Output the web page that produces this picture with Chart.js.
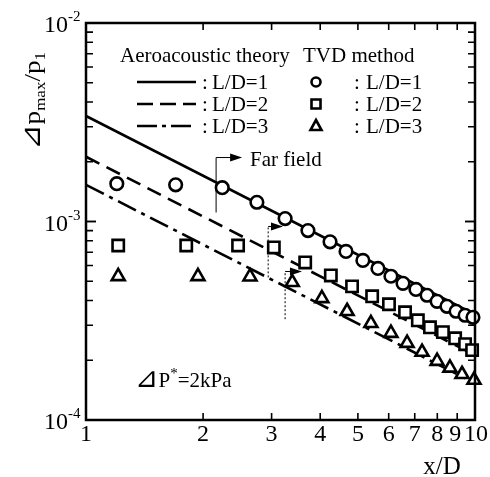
<!DOCTYPE html>
<html>
<head>
<meta charset="utf-8">
<script src="https://cdn.jsdelivr.net/npm/chart.js@4/dist/chart.umd.min.js"></script>
<style>
  html, body { margin: 0; padding: 0; background: #fff; }
</style>
</head>
<body>
<canvas id="chart" width="490" height="477"></canvas>
<script>
// Data
const theoryX = [1, 10];
const theory1 = [3.4e-3, 3.4e-4];   // L/D=1, solid
const theory2 = [2.12e-3, 2.12e-4]; // L/D=2, dashed
const theory3 = [1.53e-3, 1.53e-4]; // L/D=3, dash-dot

const tvd1X = [1.20, 1.70, 2.24, 2.75, 3.25, 3.72, 4.24, 4.66, 5.15, 5.63, 6.08, 6.53, 7.05, 7.53, 7.99, 8.47, 8.94, 9.43, 9.88];
const tvd1Y = [1.55e-3, 1.53e-3, 1.48e-3, 1.25e-3, 1.035e-3, 9.0e-4, 7.9e-4, 7.07e-4, 6.37e-4, 5.8e-4, 5.3e-4, 4.88e-4, 4.55e-4, 4.25e-4, 3.96e-4, 3.74e-4, 3.53e-4, 3.37e-4, 3.29e-4];

const tvd2X = [1.21, 1.81, 2.46, 3.04, 3.66, 4.26, 4.83, 5.44, 6.01, 6.61, 7.13, 7.66, 8.27, 8.89, 9.43, 9.83];
const tvd2Y = [7.57e-4, 7.57e-4, 7.57e-4, 7.40e-4, 6.22e-4, 5.35e-4, 4.71e-4, 4.20e-4, 3.83e-4, 3.49e-4, 3.18e-4, 2.93e-4, 2.77e-4, 2.58e-4, 2.41e-4, 2.25e-4];

const tvd3X = [1.21, 1.94, 2.64, 3.39, 4.04, 4.69, 5.40, 6.08, 6.69, 7.31, 7.99, 8.62, 9.26, 9.94];
const tvd3Y = [5.29e-4, 5.29e-4, 5.27e-4, 4.94e-4, 4.10e-4, 3.53e-4, 3.07e-4, 2.74e-4, 2.44e-4, 2.20e-4, 1.98e-4, 1.83e-4, 1.70e-4, 1.59e-4];

const xTickValues = [1, 2, 3, 4, 5, 6, 7, 8, 9, 10];
const xTickLabels = ['1', '2', '3', '4', '5', '6', '7', '8', '9', '10'];
const yTickValues = [1e-2, 1e-3, 1e-4];
const yTickExps = ['-2', '-3', '-4'];

const legendLabels = ['L/D=1', 'L/D=2', 'L/D=3'];

// Far field markers
const farField = [
  { x: 2.16, y0: 1.11e-3, y1: 2.10e-3, x1: 2.52, dotted: false },
  { x: 2.94, y0: 5.23e-4, y1: 9.44e-4, x1: 3.21, dotted: true },
  { x: 3.25, y0: 3.22e-4, y1: 5.6e-4, x1: 3.59, dotted: true }
];

const pts = (xs, ys) => xs.map((x, i) => ({ x: x, y: ys[i] }));

const SERIF = '"Liberation Serif", "DejaVu Serif", serif';
const DASH = [15, 8];
const DASHDOT = [20, 6, 4, 6];

const markerStyle = {
  showLine: false,
  borderColor: '#000',
  backgroundColor: '#fff',
  borderWidth: 2.6,
  clip: false,
  order: 0
};
const lineStyle = {
  showLine: true,
  pointRadius: 0,
  borderColor: '#000',
  borderWidth: 2.6,
  order: 1
};

function drawMarker(ctx, type, x, y) {
  ctx.save();
  ctx.lineWidth = 2.6;
  ctx.strokeStyle = '#000';
  ctx.fillStyle = '#fff';
  ctx.beginPath();
  if (type === 'circle') {
    ctx.arc(x, y, 4.5, 0, Math.PI * 2);
  } else if (type === 'rect') {
    ctx.rect(x - 4.5, y - 4.5, 9, 9);
  } else {
    ctx.moveTo(x, y - 6);
    ctx.lineTo(x + 5.5, y + 4);
    ctx.lineTo(x - 5.5, y + 4);
    ctx.closePath();
  }
  ctx.fill();
  ctx.stroke();
  ctx.restore();
}

const decorPlugin = {
  id: 'decor',
  afterDraw(chart) {
    const ctx = chart.ctx;
    const a = chart.chartArea;
    const xs = chart.scales.x, ys = chart.scales.y;
    ctx.save();
    ctx.strokeStyle = '#000';
    ctx.fillStyle = '#000';

    // frame
    ctx.lineWidth = 2.5;
    ctx.strokeRect(a.left, a.top, a.right - a.left, a.bottom - a.top);

    // x ticks (bottom + top, inward)
    ctx.lineWidth = 1.6;
    xTickValues.forEach(v => {
      if (v === 1 || v === 10) return;
      const px = xs.getPixelForValue(v);
      ctx.beginPath();
      ctx.moveTo(px, a.bottom); ctx.lineTo(px, a.bottom - 7);
      ctx.moveTo(px, a.top); ctx.lineTo(px, a.top + 7);
      ctx.stroke();
    });
    // y ticks (left + right, inward)
    [1e-4, 1e-3].forEach(dec => {
      for (let m = 1; m <= 10; m++) {
        const py = ys.getPixelForValue(dec * m);
        const len = (m === 1 || m === 10) ? 10 : 7;
        ctx.beginPath();
        ctx.moveTo(a.left, py); ctx.lineTo(a.left + len, py);
        ctx.moveTo(a.right, py); ctx.lineTo(a.right - len, py);
        ctx.stroke();
      }
    });

    // x tick labels
    ctx.font = '24px ' + SERIF;
    ctx.textAlign = 'center';
    ctx.textBaseline = 'alphabetic';
    xTickValues.forEach((v, i) => {
      let px = xs.getPixelForValue(v);
      if (v === 9) px -= 2;
      if (v === 10) px += 1;
      ctx.fillText(xTickLabels[i], px, 441);
    });

    // y tick labels 10^n
    yTickValues.forEach((v, i) => {
      const py = ys.getPixelForValue(v);
      ctx.font = '24px ' + SERIF;
      ctx.textAlign = 'right';
      ctx.fillText('10', 68, py + 9);
      ctx.font = '15px ' + SERIF;
      ctx.textAlign = 'left';
      ctx.fillText(yTickExps[i], 68, py - 2);
    });

    // x axis title
    ctx.font = '25px ' + SERIF;
    ctx.textAlign = 'center';
    ctx.fillText('x/D', 442, 474);

    // y axis title (rotated), fitted to ~98px like the figure
    const parts = [
      ['\u22BF', '27px "DejaVu Sans"', 0],
      ['p', '24px ' + SERIF, 0],
      ['max', '15px ' + SERIF, 5],
      ['/p', '24px ' + SERIF, 0],
      ['1', '15px ' + SERIF, 5]
    ];
    let total = 0;
    parts.forEach(p => { ctx.font = p[1]; total += ctx.measureText(p[0]).width; });
    ctx.save();
    ctx.translate(40, 150);
    ctx.rotate(-Math.PI / 2);
    ctx.scale(98 / total, 1);
    ctx.textAlign = 'left';
    let cx = 0;
    parts.forEach(p => {
      ctx.font = p[1];
      ctx.fillText(p[0], cx, p[2]);
      cx += ctx.measureText(p[0]).width;
    });
    ctx.restore();

    // legend
    ctx.font = '21px ' + SERIF;
    ctx.textAlign = 'left';
    ctx.textBaseline = 'middle';
    ctx.fillText('Aeroacoustic theory', 120, 56);
    ctx.fillText('TVD method', 303, 56);
    const rows = [82, 104, 126];
    const dashes = [[], [16, 7], [20, 5, 4, 5]];
    const mk = ['circle', 'rect', 'triangle'];
    rows.forEach((ry, i) => {
      ctx.save();
      ctx.lineWidth = 2.6;
      ctx.setLineDash(dashes[i]);
      ctx.beginPath();
      ctx.moveTo(137, ry); ctx.lineTo(196, ry);
      ctx.stroke();
      ctx.restore();
      ctx.fillText(':', 202, ry + 1);
      ctx.fillText(legendLabels[i], 212, ry + 1);
      drawMarker(ctx, mk[i], 316, ry);
      ctx.fillText(':', 354, ry + 1);
      ctx.fillText(legendLabels[i], 366, ry + 1);
    });

    // far field indicators
    farField.forEach(f => {
      const px = xs.getPixelForValue(f.x);
      const pyLow = ys.getPixelForValue(f.y0);
      const pyHigh = ys.getPixelForValue(f.y1);
      const pEnd = xs.getPixelForValue(f.x1);
      ctx.save();
      ctx.lineWidth = 1;
      if (f.dotted) ctx.setLineDash([2, 2]);
      ctx.beginPath();
      ctx.moveTo(px, pyLow); ctx.lineTo(px, pyHigh);
      ctx.stroke();
      ctx.setLineDash([]);
      ctx.beginPath();
      ctx.moveTo(px, pyHigh); ctx.lineTo(pEnd - 10, pyHigh);
      ctx.stroke();
      ctx.beginPath();
      ctx.moveTo(pEnd, pyHigh);
      ctx.lineTo(pEnd - 12, pyHigh - 4);
      ctx.lineTo(pEnd - 12, pyHigh + 4);
      ctx.closePath();
      ctx.fill();
      ctx.restore();
    });
    ctx.font = '21px ' + SERIF;
    ctx.textBaseline = 'middle';
    ctx.fillText('Far field', 250, 160);

    // pressure note
    ctx.textBaseline = 'alphabetic';
    let nx = 135;
    const note = (t, font, dy) => {
      ctx.font = font;
      ctx.fillText(t, nx, 387 + dy);
      nx += ctx.measureText(t).width;
    };
    note('\u22BF', '28px "DejaVu Sans"', 0);
    note('P', '21px ' + SERIF, 0);
    note('*', '15px ' + SERIF, -9);
    note('=2kPa', '21px ' + SERIF, 0);

    ctx.restore();
  }
};

new Chart(document.getElementById('chart'), {
  type: 'scatter',
  data: {
    datasets: [
      Object.assign({ label: 'TVD L/D=1', data: pts(tvd1X, tvd1Y), pointStyle: 'circle', pointRadius: 6.3 }, markerStyle),
      Object.assign({ label: 'TVD L/D=2', data: pts(tvd2X, tvd2Y), pointStyle: 'rect', pointRadius: 8 }, markerStyle),
      Object.assign({ label: 'TVD L/D=3', data: pts(tvd3X, tvd3Y), pointStyle: 'triangle', pointRadius: 7.5 }, markerStyle),
      Object.assign({ label: 'Theory L/D=1', data: pts(theoryX, theory1) }, lineStyle),
      Object.assign({ label: 'Theory L/D=2', data: pts(theoryX, theory2), borderDash: DASH }, lineStyle),
      Object.assign({ label: 'Theory L/D=3', data: pts(theoryX, theory3), borderDash: DASHDOT }, lineStyle)
    ]
  },
  options: {
    responsive: false,
    animation: false,
    layout: { padding: { left: 86, right: 15, top: 23, bottom: 57 } },
    scales: {
      x: { type: 'logarithmic', min: 1, max: 10, display: false },
      y: { type: 'logarithmic', min: 1e-4, max: 1e-2, display: false }
    },
    plugins: {
      legend: { display: false },
      tooltip: { enabled: false }
    }
  },
  plugins: [decorPlugin]
});
</script>
</body>
</html>
